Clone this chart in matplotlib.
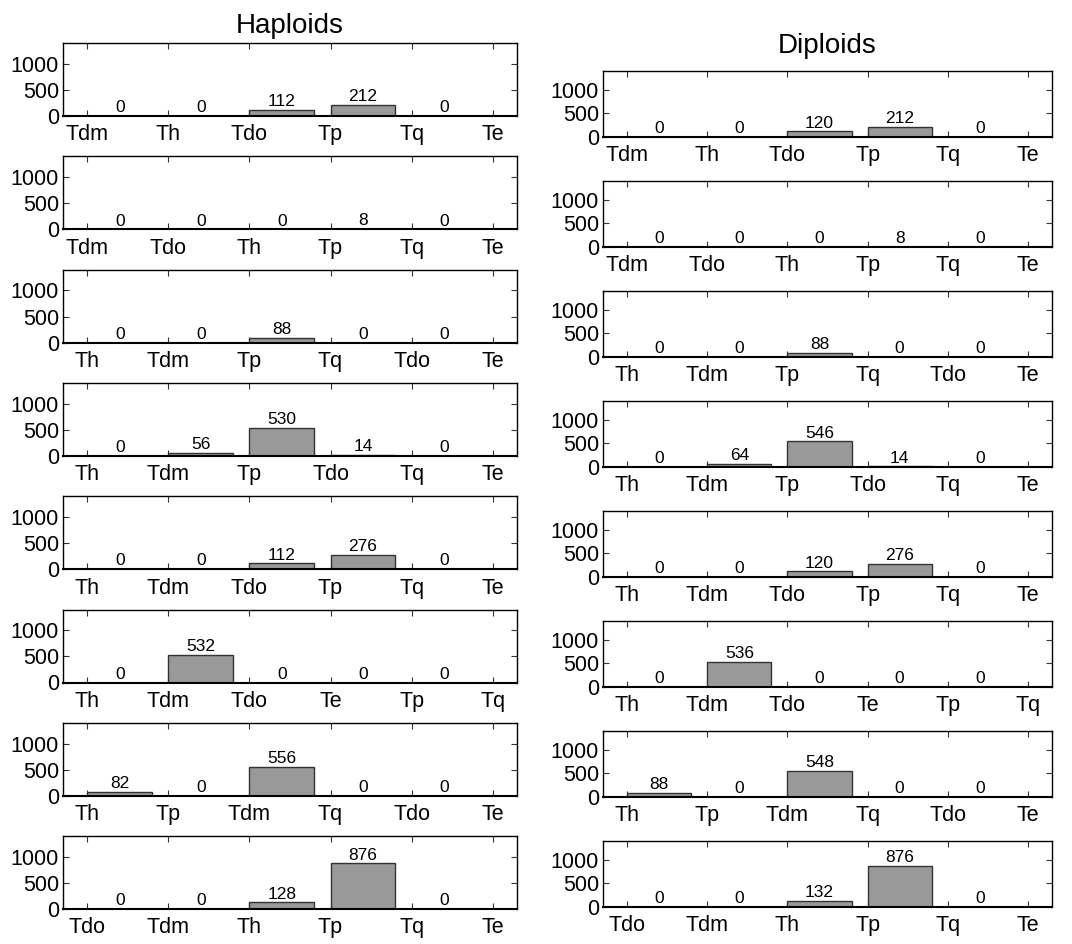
import matplotlib
matplotlib.use("Agg")
import matplotlib.pyplot as plt

plt.rcParams['font.family'] = ['Liberation Sans', 'DejaVu Sans']

# Tick labels (6 per panel) and bar values (5 per panel)
hap_labels = [
    ["Tdm", "Th", "Tdo", "Tp", "Tq", "Te"],
    ["Tdm", "Tdo", "Th", "Tp", "Tq", "Te"],
    ["Th", "Tdm", "Tp", "Tq", "Tdo", "Te"],
    ["Th", "Tdm", "Tp", "Tdo", "Tq", "Te"],
    ["Th", "Tdm", "Tdo", "Tp", "Tq", "Te"],
    ["Th", "Tdm", "Tdo", "Te", "Tp", "Tq"],
    ["Th", "Tp", "Tdm", "Tq", "Tdo", "Te"],
    ["Tdo", "Tdm", "Th", "Tp", "Tq", "Te"],
]
hap_values = [
    [0, 0, 112, 212, 0],
    [0, 0, 0, 8, 0],
    [0, 0, 88, 0, 0],
    [0, 56, 530, 14, 0],
    [0, 0, 112, 276, 0],
    [0, 532, 0, 0, 0],
    [82, 0, 556, 0, 0],
    [0, 0, 128, 876, 0],
]
dip_labels = hap_labels
dip_values = [
    [0, 0, 120, 212, 0],
    [0, 0, 0, 8, 0],
    [0, 0, 88, 0, 0],
    [0, 64, 546, 14, 0],
    [0, 0, 120, 276, 0],
    [0, 536, 0, 0, 0],
    [88, 0, 548, 0, 0],
    [0, 0, 132, 876, 0],
]
column_titles = ["Haploids", "Diploids"]
y_ticks = [0, 500, 1000]

W, H = 1072, 944
fig = plt.figure(figsize=(W / 100, H / 100), dpi=100)

# column geometry in pixels: (left, right, first top, row step, height, title pad)
cols = [
    (63, 517, 43, 113.3, 73, 7),
    (603, 1052, 71, 110.0, 66, 13),
]

for c, (labels_all, values_all) in enumerate([(hap_labels, hap_values), (dip_labels, dip_values)]):
    left, right, top0, step, h, tpad = cols[c]
    for r in range(8):
        top = top0 + step * r
        ax = fig.add_axes([left / W, 1 - (top + h) / H, (right - left) / W, h / H])
        vals = values_all[r]
        xs = list(range(len(vals)))
        ax.bar(xs, vals, width=0.8, align='edge', color='#999999',
               edgecolor='#333333', linewidth=1.0)
        for x, v in zip(xs, vals):
            ax.text(x + 0.4, v + 15, str(v), ha='center', va='bottom',
                    fontsize=12.5, color='black')
        ax.set_xlim(-0.3, 5.3)
        ax.set_ylim(0, 1400)
        ax.set_xticks(range(6))
        ax.set_xticklabels(labels_all[r])
        ax.set_yticks(y_ticks)
        ax.tick_params(direction='in', top=True, right=True, length=4,
                       width=0.8, labelsize=15.5, color='#333333')
        ax.tick_params(axis='x', pad=6)
        ax.tick_params(axis='y', pad=3)
        for s in ax.spines.values():
            s.set_linewidth(1.0)
            s.set_color('black')
        ax.spines['bottom'].set_linewidth(1.5)
        if r == 0:
            ax.set_title(column_titles[c], fontsize=20, pad=tpad)

fig.savefig("out.png", dpi=100)
